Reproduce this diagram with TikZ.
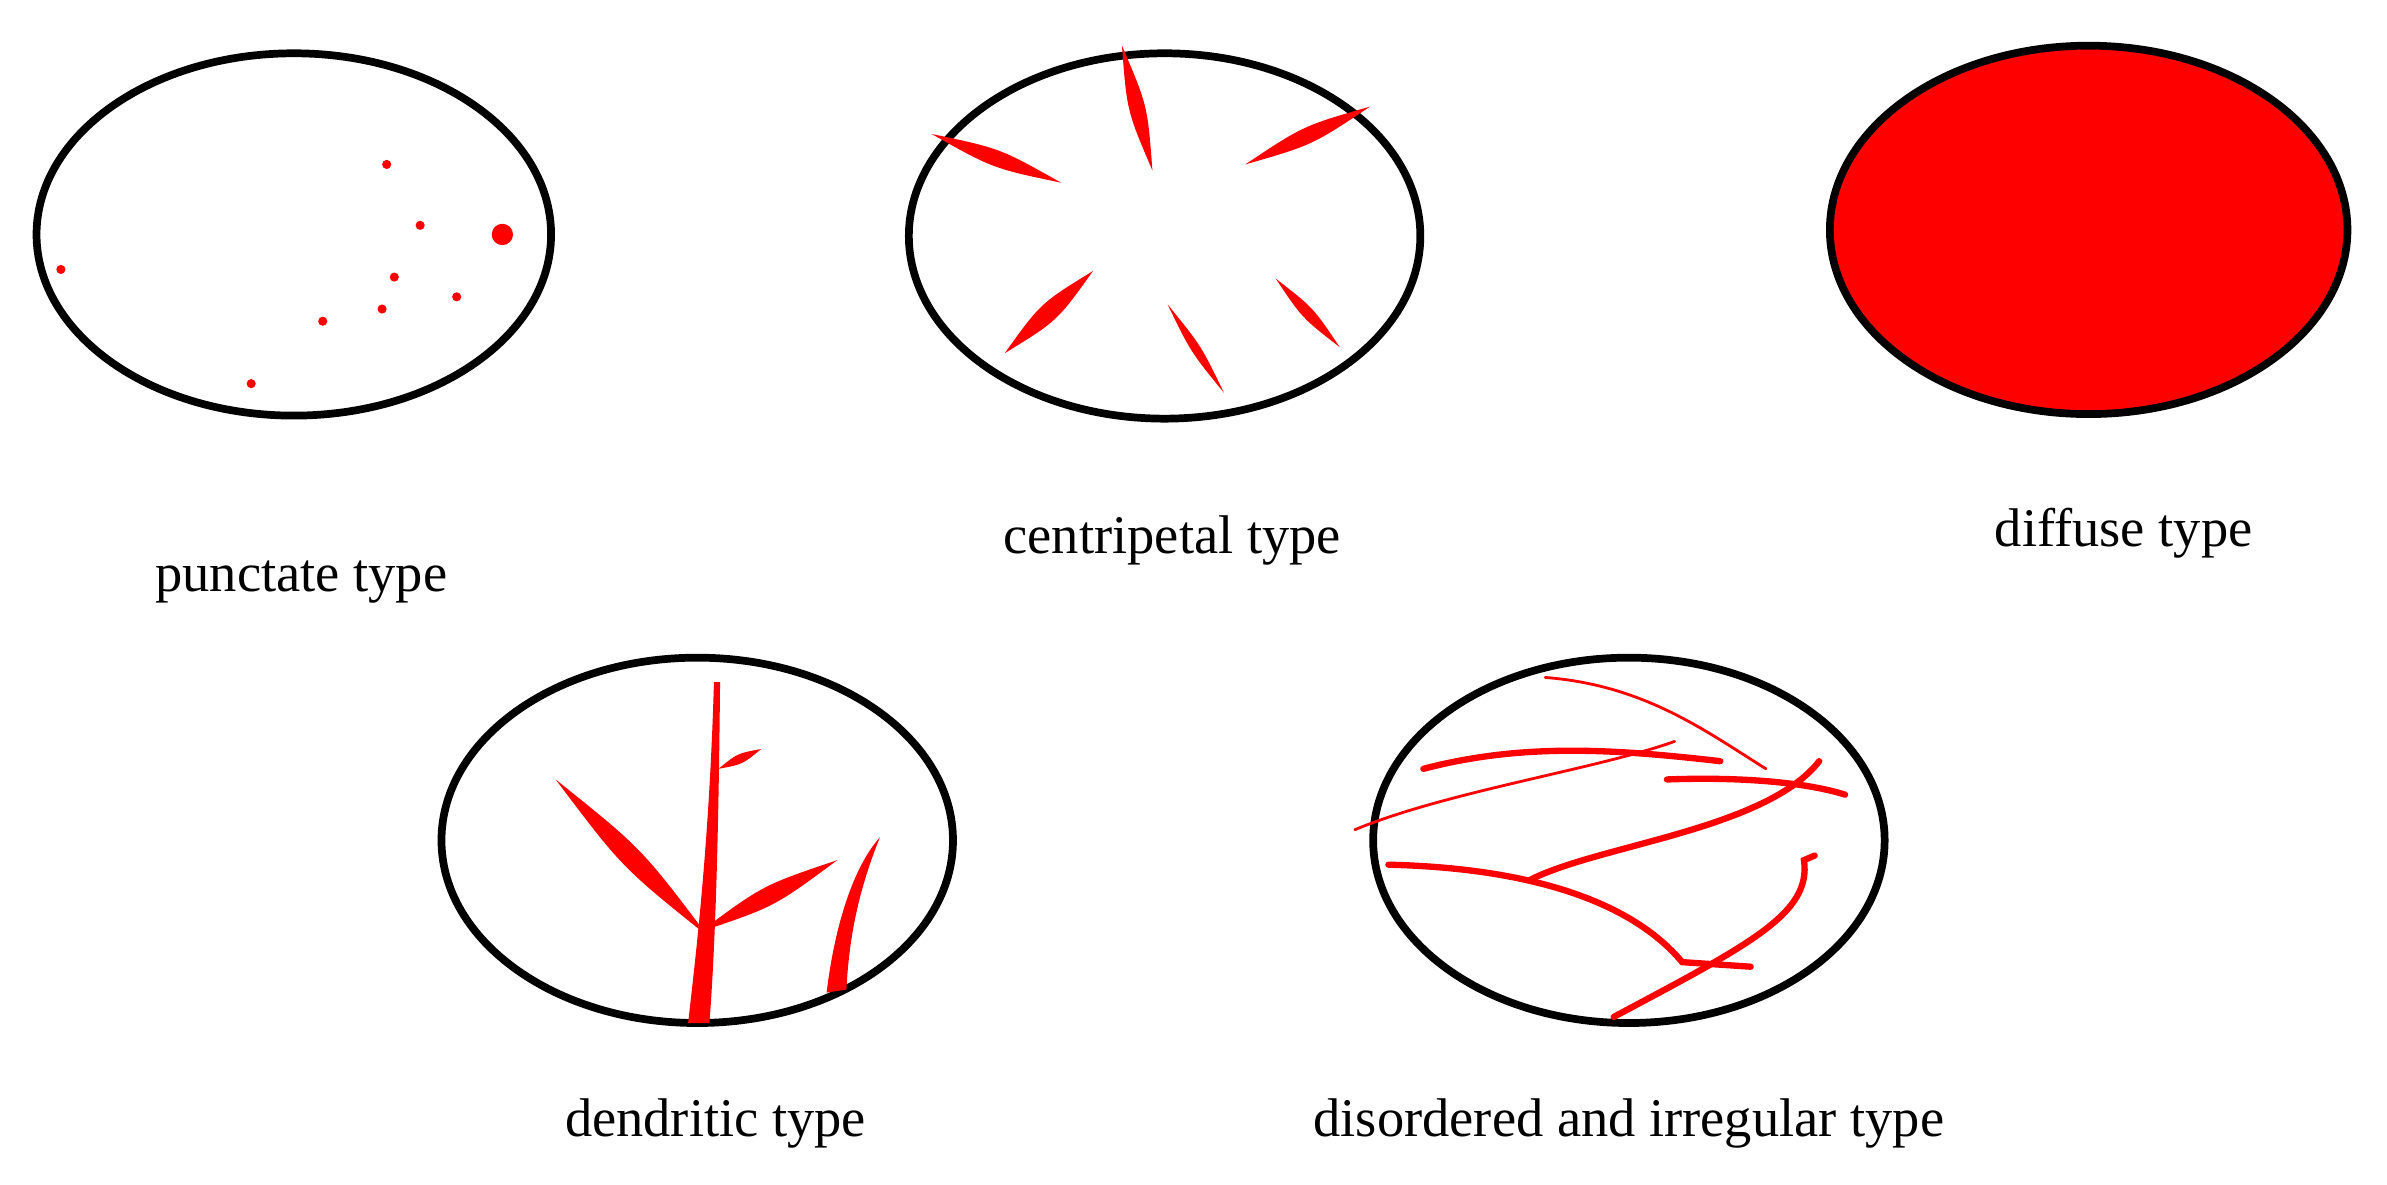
\documentclass[tikz,border=0pt]{standalone}
\usepackage{fontspec}
\setmainfont{Liberation Serif}
\usetikzlibrary{calc}
\newcommand\leaf[3]{\fill[red] (#1) .. controls ($(#1)!0.5!(#2)!#3*0.15223mm!90:(#2)$) .. (#2) .. controls ($(#1)!0.5!(#2)!#3*0.15223mm!-90:(#2)$) .. (#1);}
\tikzset{lab/.style={font=\fontsize{15.5}{18}\selectfont},
 vein/.style={draw=red,line width=1.8pt,line cap=round},
 thin/.style={draw=red,line width=0.8pt,line cap=round}}
\begin{document}
\begin{tikzpicture}[x=0.015223cm,y=-0.015223cm]
\useasboundingbox (0,0) rectangle (1568,778);
% ellipses
\draw[line width=2.2pt] (193,154) ellipse [x radius=169,y radius=119];
\draw[line width=2.2pt] (765,155) ellipse [x radius=168,y radius=120];
\fill[red] (1372,151) ellipse [x radius=170,y radius=121];
\draw[line width=2.2pt] (1372,151) ellipse [x radius=170,y radius=121];
\draw[line width=2.2pt] (458,552) ellipse [x radius=168,y radius=120];
\draw[line width=2.2pt] (1070,552) ellipse [x radius=168,y radius=120];
% punctate dots
\foreach \p in {(254,108),(276,148),(259,182),(300,195),(212,211),(251,203),(40,177),(165,252)} \fill[red] \p circle (3);
\fill[red] (330,154) circle (7);
% centripetal
\leaf{612,88}{697,120}{7}
\leaf{737,30}{757,112}{7}
\leaf{818,108}{900,70}{7}
\leaf{718,178}{660,232}{8}
\leaf{767,200}{804,258}{4}
\leaf{838,183}{880,228}{5}
% dendritic
\fill[red] (469,448) -- (473,448) .. controls (472,550) and (470,620) .. (466,672) -- (452,672) .. controls (458,620) and (466,550) .. (469,448);
\leaf{365,512}{465,615}{9}
\leaf{460,612}{550,565}{8}
\leaf{472,505}{500,492}{4}
\fill[red] (578,550) .. controls (560,570) and (548,610) .. (543,652) -- (556,650) .. controls (558,610) and (566,580) .. (578,550);
% disordered
\draw[vein] (935,505) .. controls (1000,488) and (1060,492) .. (1130,500);
\draw[thin] (890,545) .. controls (950,520) and (1050,505) .. (1100,487);
\draw[thin] (1015,445) .. controls (1080,450) and (1120,480) .. (1160,505);
\draw[vein] (1005,578) .. controls (1050,555) and (1160,545) .. (1195,500);
\draw[vein] (1095,512) .. controls (1150,510) and (1190,515) .. (1212,522);
\draw[vein] (912,568) .. controls (1000,570) and (1070,590) .. (1105,632) -- (1150,635);
\draw[vein] (1060,668) .. controls (1150,620) and (1190,600) .. (1185,565) -- (1192,562);
% labels
\node[lab] (l1) at (198,382) {punctate type};
\node[lab] (l2) at (770,355) {centripetal type};
\node[lab] (l3) at (1395,350) {diffuse type};
\node[lab] (l4) at (470,738) {dendritic type};
\node[lab] (l5) at (1070,738) {disordered and irregular type};
\end{tikzpicture}
\end{document}
